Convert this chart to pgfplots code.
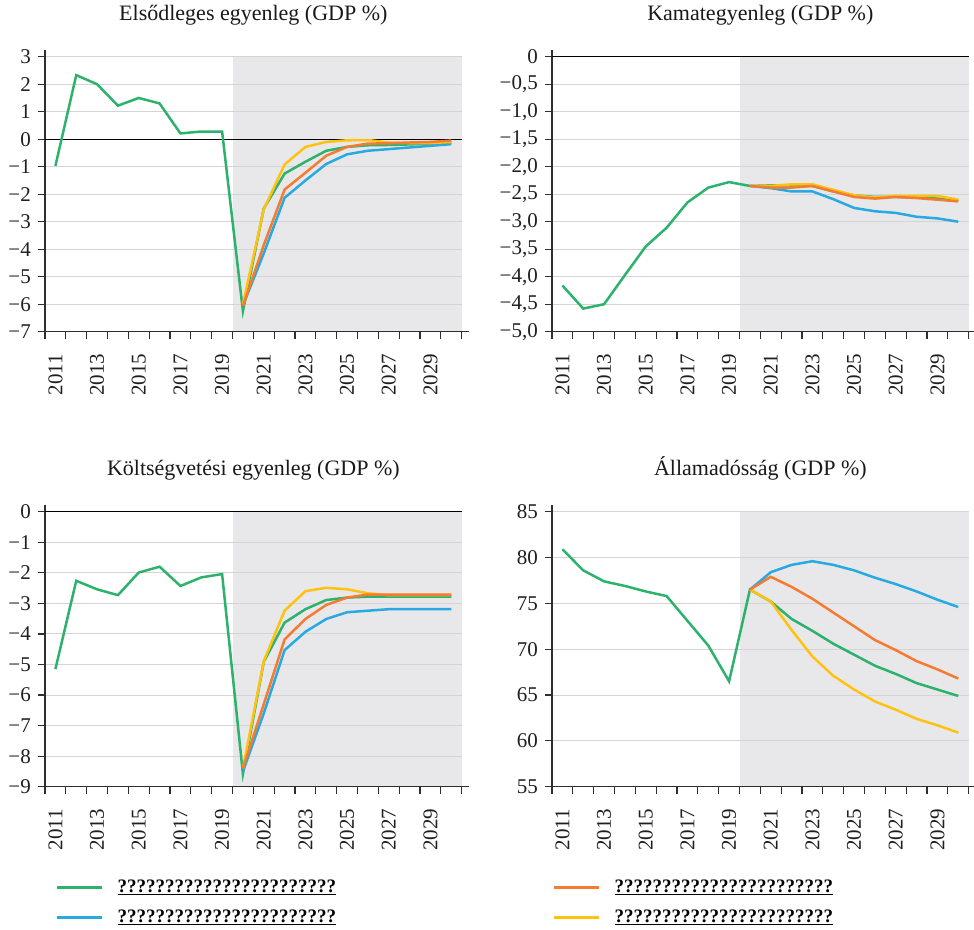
\documentclass[border=0pt]{standalone}
\usepackage{fontspec}
\setmainfont{Liberation Serif}
\usepackage{pgfplots}
\pgfplotsset{compat=1.18}
\definecolor{cgreen}{HTML}{2DB26E}
\definecolor{cblue}{HTML}{29A9E1}
\definecolor{corange}{HTML}{F47B30}
\definecolor{cyellow}{HTML}{FFC30F}
\definecolor{cshade}{HTML}{E8E8EB}
\definecolor{cgrid}{HTML}{D4D4D4}
\definecolor{caxis}{HTML}{2E2E2E}
\pgfplotsset{
  panel/.style={
    set layers,
    scale only axis, width=416.7pt, height=275pt,
    xmin=2010.5, xmax=2030.5,
    axis x line*=bottom, axis y line*=left,
    axis line style={line width=1.3pt, caxis},
    x axis line style={shorten >=-7pt},
    y axis line style={shorten >=-7pt},
    tick align=outside,
    major tick length=7pt, minor tick length=7pt,
    tick style={line width=1.2pt, caxis},
    xtick={2011,2013,...,2029},
    xticklabels={2011,2013,2015,2017,2019,2021,2023,2025,2027,2029},
    major x tick style={draw=none},
    minor xtick={2010.5,2011.5,...,2030.5},
    xticklabel style={rotate=90, anchor=east, inner sep=0pt, font=\fontsize{21}{24}\selectfont, text=black!88},
    yticklabel style={anchor=east, inner sep=0pt, font=\fontsize{21}{24}\selectfont, text=black!88},
    xticklabel shift=15pt,
    yticklabel shift=7pt,
    ymajorgrids, grid style={cgrid, line width=1pt},
    title style={at={(0.5,1)}, anchor=base, yshift=30pt, inner sep=0pt, font=\fontsize{22}{24}\selectfont, text=black!90},
    clip=false,
    legend style={draw=none, fill=none, inner sep=0pt, outer sep=0pt, column sep=0pt, row sep=10pt,
      nodes={inner sep=0pt, text height=15pt, text depth=5pt, font=\fontsize{19}{22}\selectfont\bfseries}},
    legend cell align=left,
    legend image code/.code={\draw[#1, line width=3pt] (0pt,0pt) -- (45pt,0pt); \path (61pt,0pt);},
  },
  dl/.style={line width=2.5pt, forget plot},
}
\newcommand{\qq}{\underline{???????????????????????}}
\begin{document}
\begin{tikzpicture}

% Panel 1
\begin{axis}[panel, at={(45pt,-331.7pt)}, anchor=south west,
  ymin=-7, ymax=3, ytick={-7,-6,...,3},
  yticklabels={−7,−6,−5,−4,−3,−2,−1,0,1,2,3},
  title={Elsődleges egyenleg (GDP \%)}]
\begin{pgfonlayer}{axis background}
\fill[cshade] (axis cs:2019.5,-7) rectangle (axis cs:2030.5,3);
\end{pgfonlayer}
\addplot[black, line width=1.1pt, forget plot] coordinates {(2010.5,0) (2030.5,0)};
\addplot[dl, cgreen] coordinates {(2011,-0.97) (2012,2.33) (2013,2.0) (2014,1.22) (2015,1.5) (2016,1.3) (2017,0.21) (2018,0.28) (2019,0.28) (2020,-6.25) (2021,-2.52) (2022,-1.25) (2023,-0.82) (2024,-0.42) (2025,-0.28) (2026,-0.22) (2027,-0.21) (2028,-0.19) (2029,-0.16) (2030,-0.12)};
\addplot[dl, cblue] coordinates {(2020,-6.05) (2021,-4.15) (2022,-2.13) (2023,-1.5) (2024,-0.9) (2025,-0.55) (2026,-0.42) (2027,-0.36) (2028,-0.3) (2029,-0.24) (2030,-0.18)};
\addplot[dl, cyellow] coordinates {(2020,-6.0) (2021,-2.55) (2022,-0.92) (2023,-0.28) (2024,-0.1) (2025,-0.04) (2026,-0.03) (2027,-0.12) (2028,-0.14) (2029,-0.14) (2030,-0.1)};
\addplot[dl, corange] coordinates {(2020,-6.07) (2021,-3.85) (2022,-1.83) (2023,-1.22) (2024,-0.6) (2025,-0.28) (2026,-0.16) (2027,-0.15) (2028,-0.12) (2029,-0.1) (2030,-0.05)};
\end{axis}

% Panel 2
\begin{axis}[panel, at={(552pt,-331.7pt)}, anchor=south west,
  ymin=-5, ymax=0, ytick={-5,-4.5,...,0},
  yticklabels={{−5,0},{−4,5},{−4,0},{−3,5},{−3,0},{−2,5},{−2,0},{−1,5},{−1,0},{−0,5},0},
  title={Kamategyenleg (GDP \%)}]
\begin{pgfonlayer}{axis background}
\fill[cshade] (axis cs:2019.5,-5) rectangle (axis cs:2030.5,0);
\end{pgfonlayer}
\addplot[black, line width=1.1pt, forget plot] coordinates {(2010.5,0) (2030.5,0)};
\addplot[dl, cgreen] coordinates {(2011,-4.16) (2012,-4.58) (2013,-4.5) (2014,-3.97) (2015,-3.45) (2016,-3.11) (2017,-2.65) (2018,-2.38) (2019,-2.28) (2020,-2.35) (2021,-2.34) (2022,-2.34) (2023,-2.35) (2024,-2.45) (2025,-2.52) (2026,-2.55) (2027,-2.55) (2028,-2.56) (2029,-2.58) (2030,-2.61)};
\addplot[dl, cblue] coordinates {(2020,-2.35) (2021,-2.39) (2022,-2.45) (2023,-2.45) (2024,-2.59) (2025,-2.75) (2026,-2.81) (2027,-2.84) (2028,-2.91) (2029,-2.94) (2030,-3.0)};
\addplot[dl, cyellow] coordinates {(2020,-2.35) (2021,-2.35) (2022,-2.32) (2023,-2.32) (2024,-2.42) (2025,-2.52) (2026,-2.56) (2027,-2.53) (2028,-2.53) (2029,-2.53) (2030,-2.6)};
\addplot[dl, corange] coordinates {(2020,-2.35) (2021,-2.38) (2022,-2.38) (2023,-2.35) (2024,-2.45) (2025,-2.55) (2026,-2.58) (2027,-2.55) (2028,-2.57) (2029,-2.6) (2030,-2.63)};
\end{axis}

% Panel 3
\begin{axis}[panel, at={(45pt,-786.7pt)}, anchor=south west,
  ymin=-9, ymax=0, ytick={-9,-8,...,0},
  yticklabels={−9,−8,−7,−6,−5,−4,−3,−2,−1,0},
  title={Költségvetési egyenleg (GDP \%)},
  legend style={at={(axis description cs:0,0)}, anchor=north west, xshift=10pt, yshift=-90.6pt}]
\begin{pgfonlayer}{axis background}
\fill[cshade] (axis cs:2019.5,-9) rectangle (axis cs:2030.5,0);
\end{pgfonlayer}
\addlegendimage{cgreen}
\addlegendentry{\qq}
\addlegendimage{cblue}
\addlegendentry{\qq}
\addplot[black, line width=1.1pt, forget plot] coordinates {(2010.5,0) (2030.5,0)};
\addplot[dl, cgreen] coordinates {(2011,-5.15) (2012,-2.26) (2013,-2.54) (2014,-2.73) (2015,-1.99) (2016,-1.8) (2017,-2.43) (2018,-2.15) (2019,-2.04) (2020,-8.58) (2021,-4.91) (2022,-3.63) (2023,-3.19) (2024,-2.89) (2025,-2.81) (2026,-2.78) (2027,-2.78) (2028,-2.78) (2029,-2.78) (2030,-2.78)};
\addplot[dl, cblue] coordinates {(2020,-8.5) (2021,-6.6) (2022,-4.53) (2023,-3.93) (2024,-3.51) (2025,-3.29) (2026,-3.24) (2027,-3.19) (2028,-3.19) (2029,-3.19) (2030,-3.19)};
\addplot[dl, cyellow] coordinates {(2020,-8.4) (2021,-4.89) (2022,-3.24) (2023,-2.6) (2024,-2.49) (2025,-2.54) (2026,-2.67) (2027,-2.73) (2028,-2.73) (2029,-2.73) (2030,-2.73)};
\addplot[dl, corange] coordinates {(2020,-8.4) (2021,-6.3) (2022,-4.18) (2023,-3.51) (2024,-3.05) (2025,-2.81) (2026,-2.71) (2027,-2.71) (2028,-2.71) (2029,-2.71) (2030,-2.71)};
\end{axis}

% Panel 4
\begin{axis}[panel, at={(552pt,-786.7pt)}, anchor=south west,
  ymin=55, ymax=85, ytick={55,60,...,85},
  yticklabels={55,60,65,70,75,80,85},
  title={Államadósság (GDP \%)},
  legend style={at={(axis description cs:0,0)}, anchor=north west, xshift=0pt, yshift=-90.6pt}]
\begin{pgfonlayer}{axis background}
\fill[cshade] (axis cs:2019.5,55) rectangle (axis cs:2030.5,85);
\end{pgfonlayer}
\addlegendimage{corange}
\addlegendentry{\qq}
\addlegendimage{cyellow}
\addlegendentry{\qq}
\addplot[dl, cgreen] coordinates {(2011,80.9) (2012,78.6) (2013,77.4) (2014,76.9) (2015,76.3) (2016,75.8) (2017,73.1) (2018,70.4) (2019,66.5) (2020,76.5) (2021,75.2) (2022,73.3) (2023,72.0) (2024,70.6) (2025,69.4) (2026,68.2) (2027,67.3) (2028,66.3) (2029,65.6) (2030,64.9)};
\addplot[dl, cblue] coordinates {(2020,76.5) (2021,78.4) (2022,79.2) (2023,79.6) (2024,79.2) (2025,78.6) (2026,77.8) (2027,77.1) (2028,76.3) (2029,75.4) (2030,74.6)};
\addplot[dl, cyellow] coordinates {(2020,76.5) (2021,75.2) (2022,72.1) (2023,69.2) (2024,67.1) (2025,65.6) (2026,64.3) (2027,63.4) (2028,62.4) (2029,61.7) (2030,60.9)};
\addplot[dl, corange] coordinates {(2020,76.5) (2021,77.9) (2022,76.8) (2023,75.5) (2024,74.0) (2025,72.5) (2026,71.0) (2027,69.9) (2028,68.7) (2029,67.8) (2030,66.8)};
\end{axis}
\pgfresetboundingbox
\useasboundingbox (0,0) rectangle (974pt,-929pt);
\end{tikzpicture}
\end{document}
